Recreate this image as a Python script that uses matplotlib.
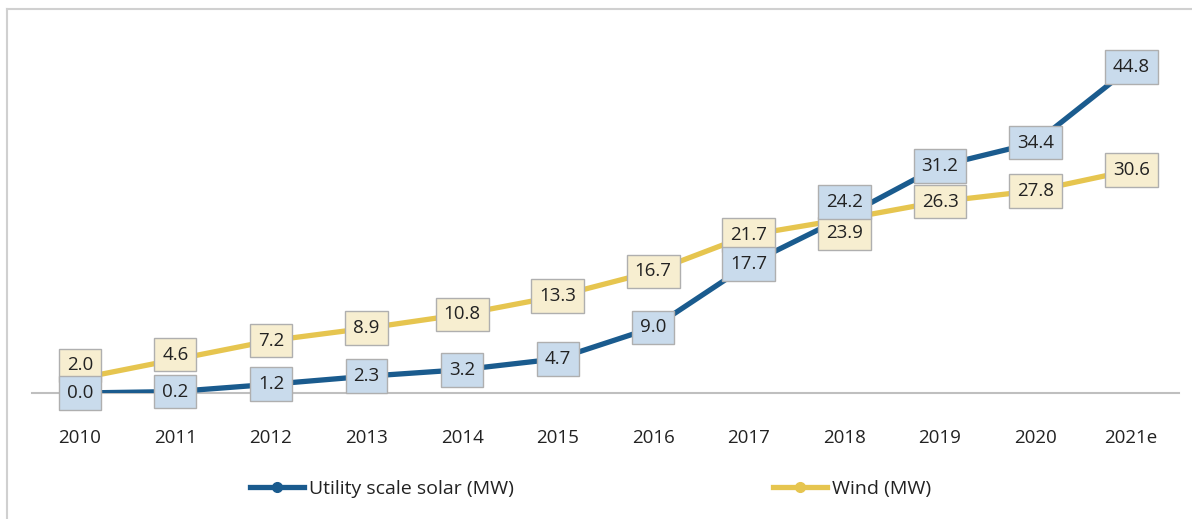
import matplotlib.pyplot as plt
from matplotlib.lines import Line2D

# data
years = ['2010', '2011', '2012', '2013', '2014', '2015', '2016', '2017', '2018', '2019', '2020', '2021e']
solar = [0.0, 0.2, 1.2, 2.3, 3.2, 4.7, 9.0, 17.7, 24.2, 31.2, 34.4, 44.8]
wind = [2.0, 4.6, 7.2, 8.9, 10.8, 13.3, 16.7, 21.7, 23.9, 26.3, 27.8, 30.6]

# label nudges (points) where boxes would collide
solar_dy = [0, 0, 0, 0, 0, 0, 0, 0, 10.8, 0, 0, 0]
wind_dy = [9.4, 3.6, 0, 0, 0, 0, 0, 0, -10.4, 0, 0, 0]

blue = '#1A5B8E'
yellow = '#E6C54F'
blue_box = '#C9DBEC'
yellow_box = '#F7EED0'
box_edge = '#AFAFAF'
txt = '#222222'

plt.rcParams['font.family'] = ['Open Sans', 'DejaVu Sans']

fig = plt.figure(figsize=(11.92, 5.19), dpi=100)
ax = fig.add_axes([32 / 1192, 1 - 393 / 519, (1179 - 32) / 1192, (393 - 43.6) / 519])

x = list(range(len(years)))
ax.plot(x, wind, color=yellow, linewidth=3.8, marker='o', markersize=7, zorder=2)
ax.plot(x, solar, color=blue, linewidth=3.8, marker='o', markersize=7, zorder=3)

for xi, v, dy in zip(x, wind, wind_dy):
    ax.annotate(f'{v:.1f}', (xi, v), xytext=(0, dy), textcoords='offset points',
                ha='center', va='center', fontsize=13.5, color=txt, zorder=4,
                bbox=dict(boxstyle='square,pad=0.42', fc=yellow_box, ec=box_edge, lw=1))
for xi, v, dy in zip(x, solar, solar_dy):
    ax.annotate(f'{v:.1f}', (xi, v), xytext=(0, dy), textcoords='offset points',
                ha='center', va='center', fontsize=13.5, color=txt, zorder=5,
                bbox=dict(boxstyle='square,pad=0.42', fc=blue_box, ec=box_edge, lw=1))

ax.set_xlim(-0.5, 11.5)
ax.set_ylim(0, 48)
ax.set_xticks(x)
ax.set_xticklabels(years, fontsize=13.5, color=txt)
ax.tick_params(axis='x', length=0, pad=26)
ax.set_yticks([])
for s in ['top', 'right', 'left']:
    ax.spines[s].set_visible(False)
ax.spines['bottom'].set_color('#BFBFBF')
ax.spines['bottom'].set_linewidth(1.5)
ax.spines['bottom'].set_zorder(1)

# legend, one entry each so they sit where the original has them
leg_kw = dict(loc='center left', frameon=False, fontsize=14, handlelength=2.8,
              handletextpad=0.25, borderpad=0, borderaxespad=0, labelcolor=txt)
h_solar = Line2D([], [], color=blue, lw=3.8, marker='o', markersize=7)
h_wind = Line2D([], [], color=yellow, lw=3.8, marker='o', markersize=7)
fig.legend([h_solar], ['Utility scale solar (MW)'], bbox_to_anchor=(250 / 1192, 1 - 489 / 519), **leg_kw)
fig.legend([h_wind], ['Wind (MW)'], bbox_to_anchor=(773 / 1192, 1 - 489 / 519), **leg_kw)

# outer frame (top and left)
fig.add_artist(Line2D([7 / 1192, 7 / 1192], [0, 1 - 9 / 519], color='#D0D0D0', lw=1.5))
fig.add_artist(Line2D([7 / 1192, 1], [1 - 9 / 519, 1 - 9 / 519], color='#D0D0D0', lw=1.5))

fig.savefig('out.png', dpi=100)
